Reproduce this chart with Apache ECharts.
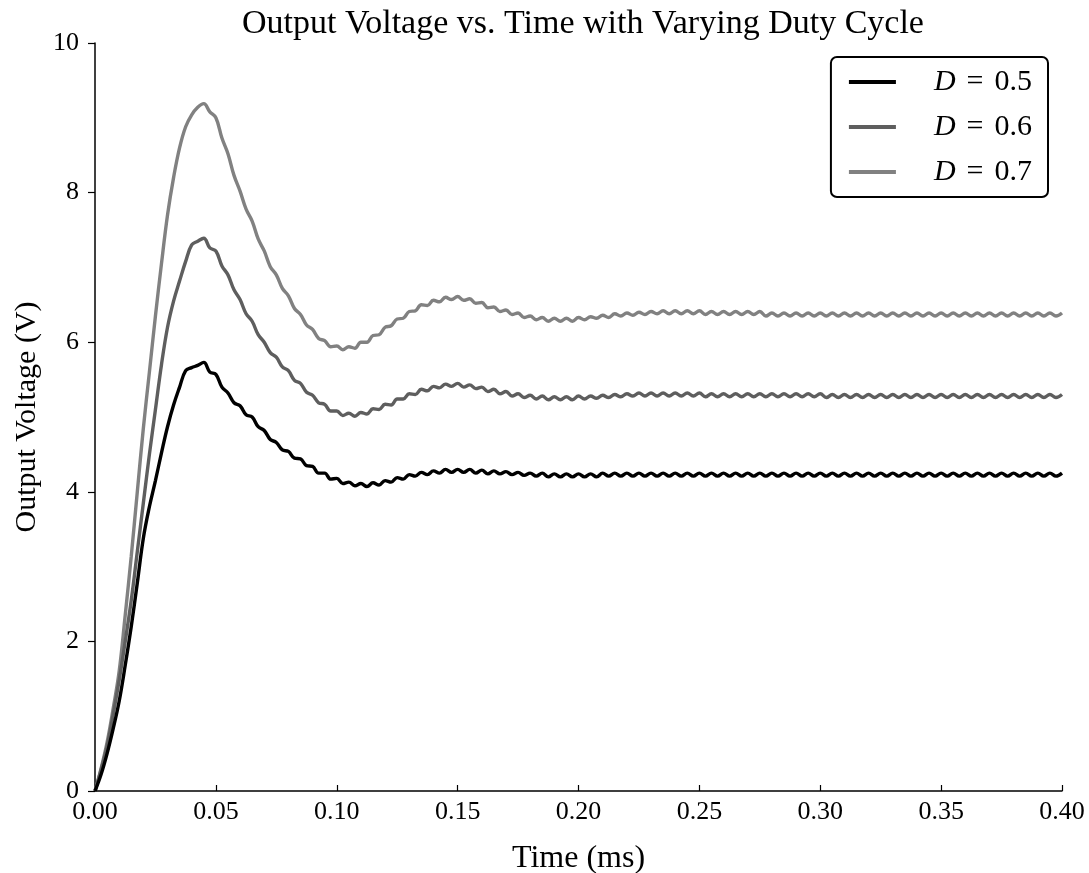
<!DOCTYPE html>
<html>
<head>
<meta charset="utf-8">
<script src="https://cdn.jsdelivr.net/npm/echarts@6/dist/echarts.min.js"></script>
<style>
  html, body { margin: 0; padding: 0; background: #fff; }
  #root { width: 1089px; height: 873px; }
</style>
</head>
<body>
<div id="root"></div>
<script>
// sample spacing of the traces (ms)
const timeStep = 0.0025;

const seriesNames = ['D = 0.5', 'D = 0.6', 'D = 0.7'];

// D = 0.5
const vD05 = [
  0, 0.22, 0.5, 0.83, 1.2, 1.68, 2.2, 2.78, 3.38, 3.8, 4.15, 4.52, 4.87, 5.16, 5.4, 5.62, 5.66, 5.69, 5.73,
  5.60, 5.57, 5.40, 5.32, 5.19, 5.15, 5.03, 5.00, 4.87, 4.82, 4.70, 4.66, 4.56, 4.54, 4.45, 4.44, 4.35, 4.34, 4.25, 4.25, 4.17, 4.18,
  4.11, 4.13, 4.08, 4.11, 4.07, 4.12, 4.09, 4.15, 4.13, 4.19, 4.17, 4.23, 4.21, 4.26, 4.23, 4.28, 4.25, 4.30, 4.26, 4.30,
  4.26, 4.30, 4.25, 4.29, 4.24, 4.28, 4.24, 4.27, 4.23, 4.26, 4.22, 4.25, 4.21, 4.25, 4.20, 4.24, 4.20, 4.24, 4.20, 4.24,
  4.20, 4.24, 4.20, 4.25, 4.21, 4.25, 4.21, 4.25, 4.21, 4.25, 4.21, 4.25, 4.21, 4.25, 4.21, 4.25, 4.21, 4.25, 4.21, 4.25,
  4.21, 4.25, 4.21, 4.25, 4.21, 4.25, 4.21, 4.25, 4.21, 4.25, 4.21, 4.25, 4.21, 4.25, 4.21, 4.25, 4.21, 4.25, 4.21, 4.25,
  4.21, 4.25, 4.21, 4.25, 4.21, 4.25, 4.21, 4.25, 4.21, 4.25, 4.21, 4.25, 4.21, 4.25, 4.21, 4.25, 4.21, 4.25, 4.21, 4.25,
  4.21, 4.25, 4.21, 4.25, 4.21, 4.25, 4.21, 4.25, 4.21, 4.25, 4.21, 4.25, 4.21, 4.25, 4.21, 4.25, 4.21, 4.25, 4.21, 4.25
];

// D = 0.6
const vD06 = [
  0, 0.28, 0.6, 1.02, 1.48, 2.0, 2.55, 3.2, 3.85, 4.5, 5.1, 5.7, 6.2, 6.55, 6.82, 7.08, 7.3, 7.35, 7.39,
  7.26, 7.22, 7.02, 6.90, 6.70, 6.57, 6.38, 6.28, 6.10, 6.00, 5.86, 5.80, 5.67, 5.62, 5.49, 5.45, 5.33, 5.29, 5.19, 5.17, 5.08, 5.08,
  5.02, 5.05, 5.01, 5.06, 5.04, 5.11, 5.10, 5.17, 5.16, 5.24, 5.24, 5.31, 5.30, 5.37, 5.35, 5.41, 5.39, 5.44, 5.41, 5.45,
  5.40, 5.43, 5.38, 5.40, 5.34, 5.37, 5.31, 5.34, 5.28, 5.31, 5.26, 5.29, 5.24, 5.28, 5.23, 5.27, 5.23, 5.27, 5.23, 5.28,
  5.24, 5.28, 5.25, 5.29, 5.26, 5.30, 5.27, 5.31, 5.28, 5.32, 5.28, 5.32, 5.28, 5.32, 5.28, 5.32, 5.28, 5.32, 5.28, 5.32,
  5.27, 5.31, 5.27, 5.31, 5.27, 5.31, 5.27, 5.31, 5.27, 5.31, 5.27, 5.31, 5.27, 5.31, 5.27, 5.31, 5.27, 5.31, 5.27, 5.31,
  5.26, 5.30, 5.26, 5.30, 5.26, 5.30, 5.26, 5.30, 5.26, 5.30, 5.26, 5.30, 5.26, 5.30, 5.26, 5.30, 5.26, 5.30, 5.26, 5.30,
  5.26, 5.30, 5.26, 5.30, 5.26, 5.30, 5.26, 5.30, 5.26, 5.30, 5.26, 5.30, 5.26, 5.30, 5.26, 5.30, 5.26, 5.30, 5.26, 5.30
];

// D = 0.7
const vD07 = [
  0, 0.3, 0.65, 1.1, 1.6, 2.35, 3.14, 4.0, 4.85, 5.6, 6.35, 7.05, 7.7, 8.2, 8.6, 8.88, 9.04, 9.14, 9.19,
  9.08, 9.00, 8.73, 8.52, 8.23, 8.02, 7.78, 7.62, 7.38, 7.22, 7.01, 6.90, 6.72, 6.62, 6.45, 6.37, 6.23, 6.17, 6.05, 6.02, 5.94, 5.95,
  5.90, 5.94, 5.92, 6.00, 6.00, 6.09, 6.10, 6.20, 6.22, 6.31, 6.32, 6.41, 6.42, 6.50, 6.49, 6.56, 6.54, 6.60, 6.57, 6.61,
  6.56, 6.58, 6.52, 6.53, 6.46, 6.47, 6.41, 6.43, 6.37, 6.39, 6.33, 6.35, 6.30, 6.33, 6.28, 6.32, 6.28, 6.32, 6.28, 6.33,
  6.30, 6.34, 6.32, 6.36, 6.33, 6.38, 6.35, 6.39, 6.36, 6.40, 6.37, 6.41, 6.38, 6.42, 6.38, 6.42, 6.38, 6.42, 6.38, 6.42,
  6.37, 6.41, 6.37, 6.41, 6.37, 6.41, 6.37, 6.41, 6.37, 6.41, 6.35, 6.39, 6.35, 6.39, 6.35, 6.39, 6.35, 6.39, 6.35, 6.39,
  6.35, 6.39, 6.35, 6.39, 6.35, 6.39, 6.35, 6.39, 6.35, 6.39, 6.35, 6.39, 6.35, 6.39, 6.35, 6.39, 6.35, 6.39, 6.35, 6.39,
  6.35, 6.39, 6.35, 6.39, 6.35, 6.39, 6.35, 6.39, 6.35, 6.39, 6.35, 6.39, 6.35, 6.39, 6.35, 6.39, 6.35, 6.39, 6.35, 6.39
];

const lineColors = ['#000000', '#5e5e5e', '#818181'];
const font = '"Liberation Serif", "DejaVu Serif", serif';

const toPairs = (vals) => vals.map((v, i) => [i * timeStep, v]);

const chart = echarts.init(document.getElementById('root'), null, { renderer: 'canvas' });

const option = {
  backgroundColor: '#ffffff',
  animation: false,
  title: {
    text: 'Output Voltage vs. Time with Varying Duty Cycle',
    left: 578,
    textAlign: 'center',
    top: 2,
    textStyle: { fontFamily: font, fontWeight: 'normal', fontSize: 34, color: '#000' }
  },
  legend: {
    data: seriesNames,
    orient: 'vertical',
    right: 41,
    top: 57,
    padding: [10, 16, 10, 18],
    borderColor: '#000',
    borderWidth: 2,
    borderRadius: 6,
    itemWidth: 47,
    itemHeight: 4,
    itemGap: 15,
    icon: 'rect',
    formatter: (name) => '{i|D}{e|=}{n|' + name.split('= ')[1] + '}',
    textStyle: {
      fontFamily: font,
      fontSize: 30,
      color: '#000',
      lineHeight: 30,
      rich: {
        i: { fontFamily: font, fontStyle: 'italic', fontSize: 30, padding: [0, 0, 0, 33] },
        e: { fontFamily: font, fontSize: 30, padding: [0, 11, 0, 11] },
        n: { fontFamily: font, fontSize: 30 }
      }
    }
  },
  grid: { left: 95, right: 27, top: 43, bottom: 82, containLabel: false, outerBoundsMode: 'none' },
  xAxis: {
    type: 'value',
    min: 0,
    max: 0.4,
    interval: 0.05,
    name: 'Time (ms)',
    nameLocation: 'middle',
    nameGap: 52,
    nameTextStyle: { fontFamily: font, fontSize: 32, color: '#000' },
    axisLine: { lineStyle: { color: '#000', width: 1.5 } },
    axisTick: { inside: true, length: 6, lineStyle: { color: '#000', width: 1.2 } },
    axisLabel: {
      fontFamily: font, fontSize: 26, color: '#000', margin: 8,
      formatter: (v) => v.toFixed(2)
    },
    splitLine: { show: false }
  },
  yAxis: {
    type: 'value',
    min: 0,
    max: 10,
    interval: 2,
    name: 'Output Voltage (V)',
    nameLocation: 'middle',
    nameGap: 50,
    nameTextStyle: { fontFamily: font, fontSize: 30, color: '#000' },
    axisLine: { show: true, lineStyle: { color: '#000', width: 1.5 } },
    axisTick: { show: true, inside: false, length: 7, lineStyle: { color: '#000', width: 1.2 } },
    axisLabel: { fontFamily: font, fontSize: 26, color: '#000', margin: 16 },
    splitLine: { show: false }
  },
  series: [vD05, vD06, vD07].map((vals, k) => ({
    name: seriesNames[k],
    type: 'line',
    data: toPairs(vals),
    showSymbol: false,
    symbol: 'none',
    smooth: 0.4,
    lineStyle: { color: lineColors[k], width: 3.4 },
    itemStyle: { color: lineColors[k] },
    z: 3 - k
  }))
};

chart.setOption(option);
</script>
</body>
</html>
